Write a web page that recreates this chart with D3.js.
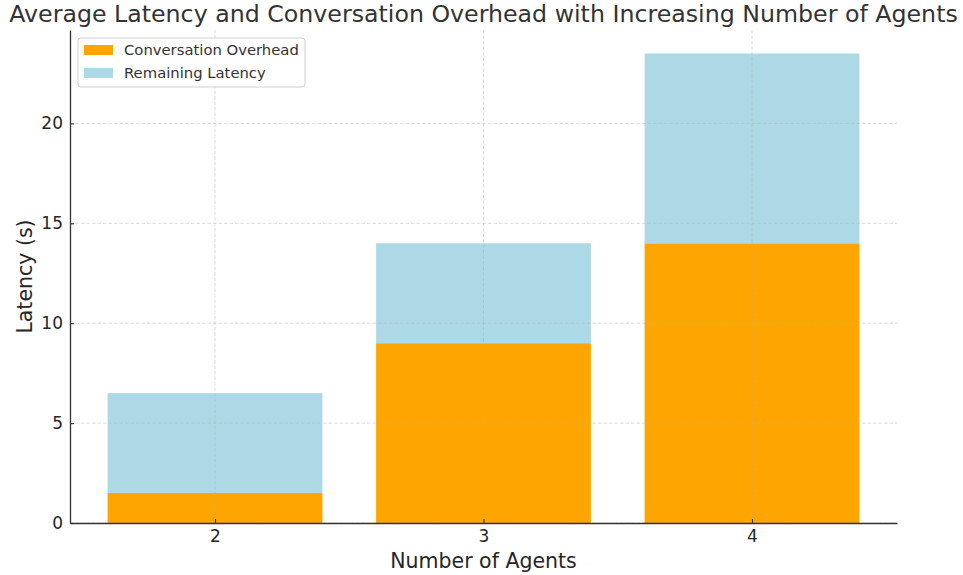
<!DOCTYPE html>
<html>
<head>
<meta charset="utf-8">
<style>
  body { margin: 0; background: #fff; }
  svg { font-family: "DejaVu Sans", sans-serif; }
</style>
</head>
<body>
<svg width="963" height="575"></svg>
<script src="https://d3js.org/d3.v7.min.js"></script>
<script>

var agents = [2, 3, 4],
    overhead = [1.5, 9, 14],
    remaining = [5, 5, 9.5],
    yTicks = [0, 5, 10, 15, 20],
    seriesNames = ["Conversation Overhead", "Remaining Latency"],
    seriesColors = ["#ffa500", "#add8e6"];

var svg = d3.select("svg"),
    margin = {top: 30, right: 66, bottom: 52, left: 70},
    width = 963 - margin.left - margin.right,
    height = 575 - margin.top - margin.bottom;

var g = svg.append("g").attr("transform", "translate(" + margin.left + "," + margin.top + ")");

var barW = 0.8;
var x = d3.scaleLinear()
    .domain([agents[0] - barW / 2 - 0.14, agents[agents.length - 1] + barW / 2 + 0.14])
    .range([0, width]);

var totals = agents.map(function(d, i) { return overhead[i] + remaining[i]; });
var y = d3.scaleLinear()
    .domain([0, d3.max(totals) * 1.05])
    .range([height, 0]);

// bars
g.append("g").selectAll("rect")
  .data(agents)
  .enter().append("rect")
    .attr("x", function(d) { return x(d - barW / 2); })
    .attr("width", function(d) { return x(d + barW / 2) - x(d - barW / 2); })
    .attr("y", function(d, i) { return y(overhead[i]); })
    .attr("height", function(d, i) { return y(0) - y(overhead[i]); })
    .attr("fill", seriesColors[0]);

g.append("g").selectAll("rect")
  .data(agents)
  .enter().append("rect")
    .attr("x", function(d) { return x(d - barW / 2); })
    .attr("width", function(d) { return x(d + barW / 2) - x(d - barW / 2); })
    .attr("y", function(d, i) { return y(overhead[i] + remaining[i]); })
    .attr("height", function(d, i) { return y(overhead[i]) - y(overhead[i] + remaining[i]); })
    .attr("fill", seriesColors[1]);

// grid on top of bars
var grid = g.append("g")
    .attr("stroke", "#b0b0b0")
    .attr("stroke-opacity", 0.6)
    .attr("stroke-width", 0.8)
    .attr("stroke-dasharray", "3.5,2");

grid.selectAll(".gy").data(yTicks).enter().append("line")
    .attr("x1", 0).attr("x2", width)
    .attr("y1", function(d) { return y(d); })
    .attr("y2", function(d) { return y(d); });

grid.selectAll(".gx").data(agents).enter().append("line")
    .attr("y1", 0).attr("y2", height)
    .attr("x1", function(d) { return x(d); })
    .attr("x2", function(d) { return x(d); });

// axes
var xAxis = g.append("g")
    .attr("transform", "translate(0," + height + ")")
    .call(d3.axisBottom(x).tickValues(agents).tickFormat(d3.format("d")).tickSizeInner(-4).tickSizeOuter(0).tickPadding(7));

var yAxis = g.append("g")
    .call(d3.axisLeft(y).tickValues(yTicks).tickSizeInner(-4).tickSizeOuter(0).tickPadding(7));

[xAxis, yAxis].forEach(function(a) {
  a.select(".domain").attr("stroke", "#333").attr("stroke-width", 1.3);
  a.selectAll(".tick line").attr("stroke", "#333").attr("stroke-width", 1.1);
  a.selectAll(".tick text")
    .attr("font-family", "DejaVu Sans, sans-serif")
    .attr("font-size", 17)
    .attr("fill", "#262626");
});

// labels
svg.append("text")
    .attr("x", margin.left + width / 2)
    .attr("y", 22)
    .attr("text-anchor", "middle")
    .attr("font-size", 23.7)
    .attr("fill", "#333")
    .text("Average Latency and Conversation Overhead with Increasing Number of Agents");

svg.append("text")
    .attr("x", margin.left + width / 2)
    .attr("y", 568)
    .attr("text-anchor", "middle")
    .attr("font-size", 20.5)
    .attr("fill", "#262626")
    .text("Number of Agents");

svg.append("text")
    .attr("transform", "translate(32," + (margin.top + height / 2) + ") rotate(-90)")
    .attr("text-anchor", "middle")
    .attr("font-size", 20.5)
    .attr("fill", "#262626")
    .text("Latency (s)");

// legend
var legend = svg.append("g").attr("transform", "translate(78,38)");
legend.append("rect")
    .attr("width", 227).attr("height", 49)
    .attr("rx", 3)
    .attr("fill", "#fff").attr("fill-opacity", 0.8)
    .attr("stroke", "#d0d0d0");

var items = legend.selectAll(".item").data(seriesNames).enter().append("g")
    .attr("transform", function(d, i) { return "translate(6," + (12 + i * 23) + ")"; });
items.append("rect")
    .attr("y", -5).attr("width", 29).attr("height", 10)
    .attr("fill", function(d, i) { return seriesColors[i]; });
items.append("text")
    .attr("x", 40).attr("y", 5)
    .attr("font-size", 14.8)
    .attr("fill", "#333")
    .text(function(d) { return d; });

</script>
</body>
</html>
